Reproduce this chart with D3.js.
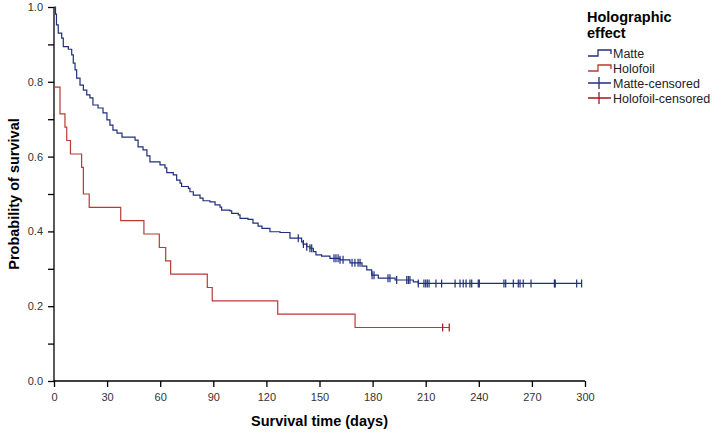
<!DOCTYPE html>
<html>
<head>
<meta charset="utf-8">
<script src="https://cdn.jsdelivr.net/npm/d3@7"></script>
<style>
  body { margin: 0; background: #fff; }
  .tick text { font-family: "Liberation Sans Narrow", "Arial Narrow", "Liberation Sans", sans-serif; font-size: 11px; fill: #333; }
</style>
</head>
<body>
<div class="chart"></div>
<script>
// Kaplan-Meier steps: [time (days), survival after the step]
var matteSteps = [
  [0, 1.0], [0.85, 0.981], [1.4, 0.952], [2.4, 0.930], [4.35, 0.917], [5.25, 0.894],
  [8.1, 0.887], [10.0, 0.872], [10.9, 0.850], [11.9, 0.832], [12.8, 0.810], [14.7, 0.791],
  [16.6, 0.778], [18.5, 0.765], [20.3, 0.757], [22.0, 0.738], [24.9, 0.730], [27.7, 0.717],
  [29.9, 0.698], [31.6, 0.684], [33.3, 0.671], [35.6, 0.663], [38.4, 0.652], [45.8, 0.644],
  [47.5, 0.626], [50.3, 0.618], [52.5, 0.602], [54.2, 0.586], [59.9, 0.578], [62.7, 0.570],
  [63.7, 0.557], [67.4, 0.551], [69.3, 0.537], [71.2, 0.529], [72.1, 0.520], [75.9, 0.515],
  [76.8, 0.506], [78.7, 0.497], [82.5, 0.489], [84.2, 0.482], [88.1, 0.479], [91.0, 0.471],
  [93.8, 0.465], [94.7, 0.457], [99.4, 0.455], [100.4, 0.448], [104.1, 0.444], [105.1, 0.435],
  [109.6, 0.432], [112.4, 0.422], [115.3, 0.414], [117.5, 0.408], [122.0, 0.399], [127.7, 0.397],
  [133.3, 0.382], [139.9, 0.372], [140.8, 0.366], [142.8, 0.359], [144.6, 0.355], [146.5, 0.346],
  [148.0, 0.337], [151.2, 0.334], [155.9, 0.328], [161.6, 0.324], [167.2, 0.316], [174.0, 0.307],
  [176.7, 0.297], [179.5, 0.283], [183.2, 0.275], [192.7, 0.270], [203.0, 0.265], [205.8, 0.261]
];
var matteCensored = [
  138.0, 140.9, 142.8, 144.6, 145.6, 158.2, 159.3, 160.5, 161.6, 163.3, 168.4, 170, 171.8, 172.9,
  179.7, 180.8, 188.7, 189.8, 193.6, 199.3, 200.2, 201.1, 205.8, 209, 210, 210.9, 211.9, 215.8,
  219, 226.6, 229.4, 231.2, 232.8, 235, 236, 239.7, 240.3, 254.2, 255.2, 259.5, 262.3, 263.3,
  265.1, 269.5, 282.7, 283.2, 295.3, 298.1
];
var holoSteps = [
  [0, 0.786], [3.4, 0.714], [6.2, 0.679], [7.2, 0.643], [9.3, 0.607], [15.6, 0.571],
  [16.6, 0.500], [19.9, 0.464], [37.7, 0.429], [50.8, 0.393], [59.5, 0.357], [63.1, 0.321],
  [65.9, 0.286], [86.6, 0.250], [89.4, 0.214], [126.4, 0.179], [170.1, 0.143]
];
var holoCensored = [219.6, 223.3];

var xTicks = [0, 30, 60, 90, 120, 150, 180, 210, 240, 270, 300];
var yTicks = [0, 0.1, 0.2, 0.3, 0.4, 0.5, 0.6, 0.7, 0.8, 0.9, 1.0];
var legendLabels = ["Matte", "Holofoil", "Matte-censored", "Holofoil-censored"];

var width = 712,
    height = 435;
var margin = {left: 54, top: 7, right: 127, bottom: 54};

var matteColor = "#1e2f7c",
    holoColor = "#b83a34",
    holoCensColor = "#a01818";

var svg = d3.select(".chart").append("svg")
  .attr("width", width)
  .attr("height", height)
  .style("font-family", "'Liberation Sans', Arial, sans-serif");

var x = d3.scaleLinear().domain([0, 300]).range([margin.left, width - margin.right]);
var y = d3.scaleLinear().domain([0, 1]).range([height - margin.bottom, margin.top]);

// axes
svg.append("g")
  .attr("transform", "translate(0," + y(0) + ")")
  .call(d3.axisBottom(x).tickValues(xTicks).tickSize(6).tickPadding(6))
  .call(function(g) { g.selectAll("line, path").attr("stroke", "#000").attr("stroke-width", 1.3); })
  .call(function(g) { g.select(".domain").attr("d", "M" + x(0) + ",0H" + x(300)); });

svg.append("g")
  .attr("transform", "translate(" + x(0) + ",0)")
  .call(d3.axisLeft(y).tickValues(yTicks).tickSize(6).tickPadding(5)
    .tickFormat(function(d) { return Math.round(d * 10) % 2 === 0 ? d3.format(".1f")(d) : ""; }))
  .call(function(g) { g.selectAll("line, path").attr("stroke", "#000").attr("stroke-width", 1.3); })
  .call(function(g) { g.select(".domain").attr("d", "M0," + y(0) + "V" + y(1)); });

svg.append("text")
  .attr("x", (x(0) + x(300)) / 2)
  .attr("y", 426)
  .attr("text-anchor", "middle")
  .style("font-size", "14.5px")
  .style("font-weight", "bold")
  .text("Survival time (days)");

svg.append("text")
  .attr("transform", "translate(19," + ((y(0) + y(1)) / 2) + ") rotate(-90)")
  .attr("text-anchor", "middle")
  .style("font-size", "14.5px")
  .style("font-weight", "bold")
  .text("Probability of survival");

// curves
function survivalAt(steps, t) {
  var s = steps[0][1];
  steps.forEach(function(d) { if (d[0] <= t) s = d[1]; });
  return s;
}

var line = d3.line()
  .x(function(d) { return x(d[0]); })
  .y(function(d) { return y(d[1]); })
  .curve(d3.curveStepAfter);

var matteEnd = d3.max(matteCensored);
var holoEnd = d3.max(holoCensored);

svg.append("path")
  .datum(matteSteps.concat([[matteEnd, survivalAt(matteSteps, matteEnd)]]))
  .attr("d", line)
  .attr("fill", "none")
  .attr("stroke", matteColor)
  .attr("stroke-width", 1.2);

svg.append("path")
  .datum(holoSteps.concat([[holoEnd, survivalAt(holoSteps, holoEnd)]]))
  .attr("d", line)
  .attr("fill", "none")
  .attr("stroke", holoColor)
  .attr("stroke-width", 1.2);

// censor marks
svg.selectAll(".mcens")
  .data(matteCensored)
  .enter()
  .append("line")
  .attr("class", "mcens")
  .attr("x1", function(d) { return x(d); })
  .attr("x2", function(d) { return x(d); })
  .attr("y1", function(d) { return y(survivalAt(matteSteps, d)) - 4; })
  .attr("y2", function(d) { return y(survivalAt(matteSteps, d)) + 4; })
  .attr("stroke", matteColor)
  .attr("stroke-width", 1.2);

svg.selectAll(".hcens")
  .data(holoCensored)
  .enter()
  .append("line")
  .attr("class", "hcens")
  .attr("x1", function(d) { return x(d); })
  .attr("x2", function(d) { return x(d); })
  .attr("y1", function(d) { return y(survivalAt(holoSteps, d)) - 4; })
  .attr("y2", function(d) { return y(survivalAt(holoSteps, d)) + 4; })
  .attr("stroke", holoCensColor)
  .attr("stroke-width", 1.2);

// legend
var legend = svg.append("g").attr("transform", "translate(587,0)");

legend.append("text")
  .attr("x", 0).attr("y", 22)
  .style("font-size", "14.5px").style("font-weight", "bold")
  .text("Holographic");
legend.append("text")
  .attr("x", 0).attr("y", 38)
  .style("font-size", "14.5px").style("font-weight", "bold")
  .text("effect");

var legendColors = [matteColor, holoColor, matteColor, holoCensColor];

legendLabels.forEach(function(label, i) {
  var ly = 53 + i * 15;
  var row = legend.append("g").attr("transform", "translate(0," + ly + ")");
  if (i < 2) {
    row.append("path")
      .attr("d", "M1,3H11V-3H24V1")
      .attr("fill", "none")
      .attr("stroke", legendColors[i])
      .attr("stroke-width", 1.3);
  } else {
    row.append("path")
      .attr("d", "M1,0H24M12,-6V6")
      .attr("fill", "none")
      .attr("stroke", legendColors[i])
      .attr("stroke-width", 1.3);
  }
  row.append("text")
    .attr("x", 26)
    .attr("y", 4.5)
    .style("font-size", "12.5px")
    .style("fill", "#222")
    .text(label);
});
</script>
</body>
</html>
